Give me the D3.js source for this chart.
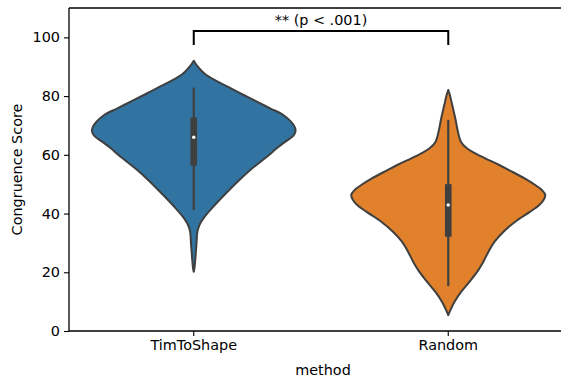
<!DOCTYPE html>
<html>
<head>
<meta charset="utf-8">
<script src="https://cdn.jsdelivr.net/npm/d3@7"></script>
<style>
  body { margin: 0; background: #fff; }
  text { font-family: "DejaVu Sans", sans-serif; fill: #000; }
</style>
</head>
<body>
<svg id="chart" width="561" height="379"></svg>
<script>
// categories on the x axis
const methods = ["TimToShape", "Random"];
const colors = ["#3274a1", "#e1812c"];

// violin outlines: [score, relative density]
const timToShapeDensity = [
  [92.06, 0], [90.0, 0.04], [87.5, 0.11], [85.0, 0.23], [82.64, 0.365],
  [80.37, 0.49], [78.10, 0.62], [75.83, 0.75], [73.56, 0.88],
  [71.29, 0.955], [69.59, 0.99], [68.45, 1.0], [67.3, 0.993], [66.2, 0.97],
  [64.48, 0.9], [62.21, 0.815], [59.94, 0.74], [55.40, 0.575], [50.86, 0.43],
  [46.32, 0.3], [41.78, 0.177], [38.37, 0.095], [36.10, 0.056], [33.83, 0.036],
  [29.29, 0.026], [24.75, 0.016], [21.34, 0.007], [20.2, 0]
];
const randomDensity = [
  [82.07, 0], [80.37, 0.016], [76.97, 0.039], [72.43, 0.069], [67.88, 0.095],
  [64.48, 0.124], [62.21, 0.183], [60.51, 0.265], [58.81, 0.363], [56.53, 0.501],
  [54.26, 0.626], [51.99, 0.75], [49.72, 0.855], [48.02, 0.92], [46.32, 0.953],
  [44.61, 0.936], [42.91, 0.894], [40.64, 0.805], [37.23, 0.658], [33.83, 0.543],
  [30.42, 0.455], [27.02, 0.395], [23.61, 0.345], [20.2, 0.285], [16.8, 0.209],
  [13.39, 0.128], [9.99, 0.062], [7.72, 0.029], [5.45, 0]
];
const densities = [timToShapeDensity, randomDensity];

// inner box stats: [whiskerLow, q1, median, q3, whiskerHigh]
const boxStats = [
  [41.2, 56.3, 66.0, 72.7, 82.9],
  [15.3, 32.1, 42.9, 50.0, 71.9]
];

const yTicks = [0, 20, 40, 60, 80, 100];
const annotation = "** (p < .001)";

const svg = d3.select("#chart");
const mLeft = 69, mTop = 8, mBottom = 331, mRight = 561;

const x = d3.scaleBand().domain(methods).range([66.5, 575.5]);
const y = d3.scaleLinear().domain([0, 110]).range([mBottom, mTop]);
const half = d3.scaleLinear().domain([0, 1]).range([0, x.bandwidth() * 0.4]);

// violins
methods.forEach((m, i) => {
  const cx = x(m) + x.bandwidth() / 2;
  const area = d3.area()
    .curve(d3.curveCatmullRom.alpha(0.5))
    .y(d => y(d[0]))
    .x0(d => cx - half(d[1]))
    .x1(d => cx + half(d[1]));
  svg.append("path")
    .attr("d", area(densities[i]))
    .attr("fill", colors[i])
    .attr("stroke", "#3f3f3f")
    .attr("stroke-width", 2)
    .attr("stroke-linejoin", "round");

  const b = boxStats[i];
  svg.append("line")
    .attr("x1", cx).attr("x2", cx)
    .attr("y1", y(b[0])).attr("y2", y(b[4]))
    .attr("stroke", "#3f3f3f").attr("stroke-width", 2.2);
  svg.append("rect")
    .attr("x", cx - 3.3).attr("width", 6.6)
    .attr("y", y(b[3])).attr("height", y(b[1]) - y(b[3]))
    .attr("fill", "#3f3f3f");
  svg.append("circle")
    .attr("cx", cx).attr("cy", y(b[2])).attr("r", 1.7)
    .attr("fill", "#fff");
});

// spines
svg.append("line").attr("x1", mLeft).attr("x2", mLeft).attr("y1", mTop).attr("y2", mBottom)
  .attr("stroke", "#000").attr("stroke-width", 1.3);
svg.append("line").attr("x1", mLeft).attr("x2", mRight).attr("y1", mBottom).attr("y2", mBottom)
  .attr("stroke", "#000").attr("stroke-width", 1.3);
svg.append("line").attr("x1", mLeft).attr("x2", mRight).attr("y1", mTop).attr("y2", mTop)
  .attr("stroke", "#000").attr("stroke-width", 1.3);

// y axis
const yAxis = svg.append("g")
  .attr("transform", `translate(${mLeft},0)`)
  .call(d3.axisLeft(y).tickValues(yTicks).tickSize(5).tickPadding(4));
yAxis.select(".domain").remove();
yAxis.selectAll("line").attr("stroke", "#000").attr("stroke-width", 1.1);
yAxis.selectAll("text").style("font-size", "14.4px").style("font-family", "DejaVu Sans");

// x axis
const xAxis = svg.append("g")
  .attr("transform", `translate(0,${mBottom})`)
  .call(d3.axisBottom(x).tickSize(5).tickPadding(4));
xAxis.select(".domain").remove();
xAxis.selectAll("line").attr("stroke", "#000").attr("stroke-width", 1.1);
xAxis.selectAll("text").style("font-size", "14.4px").style("font-family", "DejaVu Sans");

// axis labels
svg.append("text")
  .attr("x", (mLeft + 577) / 2).attr("y", 375)
  .attr("text-anchor", "middle")
  .style("font-size", "14.4px")
  .text("method");
svg.append("text")
  .attr("transform", `translate(22,${(mTop + mBottom) / 2}) rotate(-90)`)
  .attr("text-anchor", "middle")
  .style("font-size", "14.4px")
  .text("Congruence Score");

// significance bracket
const c0 = x(methods[0]) + x.bandwidth() / 2;
const c1 = x(methods[1]) + x.bandwidth() / 2;
const by = y(102.2), bl = y(97.4);
svg.append("path")
  .attr("d", `M${c0},${bl}V${by}H${c1}V${bl}`)
  .attr("fill", "none").attr("stroke", "#000").attr("stroke-width", 2);
svg.append("text")
  .attr("x", (c0 + c1) / 2).attr("y", by - 6)
  .attr("text-anchor", "middle")
  .style("font-size", "14.4px")
  .text(annotation);
</script>
</body>
</html>
